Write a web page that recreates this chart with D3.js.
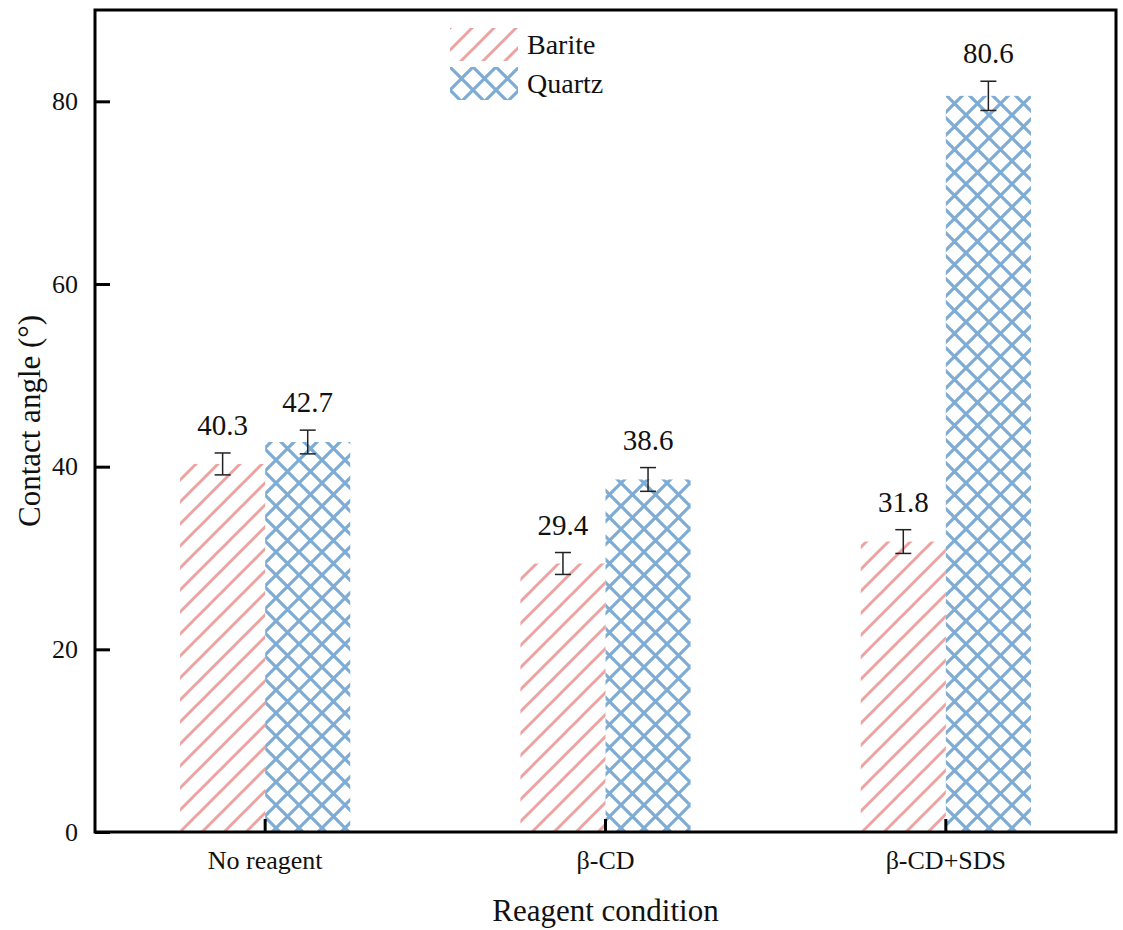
<!DOCTYPE html>
<html>
<head>
<meta charset="utf-8">
<script src="https://cdn.jsdelivr.net/npm/d3@7"></script>
<style>
  body { margin: 0; background: #fff; }
</style>
</head>
<body>
<svg id="chart" width="1123" height="930"></svg>
<script>
// chart values
const conditions = ["No reagent", "β-CD", "β-CD+SDS"];
const minerals = ["Barite", "Quartz"];
const bariteValues = [40.3, 29.4, 31.8];
const quartzValues = [42.7, 38.6, 80.6];
const bariteErrors = [1.2, 1.2, 1.3];
const quartzErrors = [1.3, 1.3, 1.6];
const yTicks = [0, 20, 40, 60, 80];

const margin = {left: 95, right: 7, top: 10, bottom: 98};
const width = 1123, height = 930;
const font = "Liberation Serif";

const svg = d3.select("#chart");

// hatch patterns
const defs = svg.append("defs");
const s = 22;
defs.append("pattern")
  .attr("id", "hatchBarite")
  .attr("patternUnits", "userSpaceOnUse")
  .attr("width", s).attr("height", s)
  .append("path")
  .attr("d", `M0,${s} L${s},0 M${-s/4},${s/4} L${s/4},${-s/4} M${3*s/4},${5*s/4} L${5*s/4},${3*s/4}`)
  .attr("stroke", "#eea3a3")
  .attr("stroke-width", 3)
  .attr("stroke-linecap", "round");

const q = 23;
defs.append("pattern")
  .attr("id", "hatchQuartz")
  .attr("patternUnits", "userSpaceOnUse")
  .attr("width", q).attr("height", q)
  .append("path")
  .attr("d", `M0,${q} L${q},0 M${-q/4},${q/4} L${q/4},${-q/4} M${3*q/4},${5*q/4} L${5*q/4},${3*q/4}
              M0,0 L${q},${q} M${-q/4},${3*q/4} L${q/4},${5*q/4} M${3*q/4},${-q/4} L${5*q/4},${q/4}`)
  .attr("stroke", "#7eacd4")
  .attr("stroke-width", 3.2);

const x = d3.scaleBand()
  .domain(conditions)
  .range([margin.left, width - margin.right]);

const xInner = d3.scaleBand()
  .domain(minerals)
  .range([0, x.bandwidth()])
  .paddingOuter(1);

const y = d3.scaleLinear()
  .domain([0, 90])
  .range([height - margin.bottom, margin.top]);

const series = [
  {name: "Barite", values: bariteValues, errors: bariteErrors, fill: "url(#hatchBarite)"},
  {name: "Quartz", values: quartzValues, errors: quartzErrors, fill: "url(#hatchQuartz)"}
];

const rows = [];
series.forEach(sr => {
  conditions.forEach((c, i) => {
    rows.push({cond: c, name: sr.name, v: sr.values[i], e: sr.errors[i], fill: sr.fill});
  });
});

// bars
svg.append("g")
  .selectAll("rect")
  .data(rows)
  .enter()
  .append("rect")
  .attr("x", d => x(d.cond) + xInner(d.name))
  .attr("y", d => y(d.v))
  .attr("width", xInner.bandwidth())
  .attr("height", d => y(0) - y(d.v))
  .attr("fill", d => d.fill);

// error bars
const eb = svg.append("g")
  .attr("stroke", "#222")
  .attr("stroke-width", 1.5);
rows.forEach(d => {
  const cx = x(d.cond) + xInner(d.name) + xInner.bandwidth() / 2;
  eb.append("line").attr("x1", cx).attr("x2", cx).attr("y1", y(d.v + d.e)).attr("y2", y(d.v - d.e));
  eb.append("line").attr("x1", cx - 8).attr("x2", cx + 8).attr("y1", y(d.v + d.e)).attr("y2", y(d.v + d.e));
  eb.append("line").attr("x1", cx - 8).attr("x2", cx + 8).attr("y1", y(d.v - d.e)).attr("y2", y(d.v - d.e));
});

// value labels
svg.append("g")
  .selectAll("text")
  .data(rows)
  .enter()
  .append("text")
  .attr("x", d => x(d.cond) + xInner(d.name) + xInner.bandwidth() / 2)
  .attr("y", d => y(d.v + d.e) - 18)
  .attr("text-anchor", "middle")
  .attr("font-family", font)
  .attr("font-size", 29)
  .attr("fill", "#111")
  .text(d => d.v.toFixed(1));

// axes
const yAxis = d3.axisLeft(y)
  .tickValues(yTicks)
  .tickSizeInner(-15)
  .tickSizeOuter(0)
  .tickPadding(17);

const gy = svg.append("g")
  .attr("transform", `translate(${margin.left},0)`)
  .call(yAxis);
gy.select(".domain").remove();
gy.selectAll(".tick line").attr("stroke", "#000").attr("stroke-width", 3);
gy.selectAll(".tick text")
  .attr("font-family", font)
  .attr("font-size", 26)
  .attr("fill", "#111");

const xAxis = d3.axisBottom(x)
  .tickSizeInner(-13)
  .tickSizeOuter(0)
  .tickPadding(19);

const gx = svg.append("g")
  .attr("transform", `translate(0,${height - margin.bottom})`)
  .call(xAxis);
gx.select(".domain").remove();
gx.selectAll(".tick line").attr("stroke", "#000").attr("stroke-width", 3);
gx.selectAll(".tick text")
  .attr("font-family", font)
  .attr("font-size", 26)
  .attr("fill", "#111");

// frame
svg.append("rect")
  .attr("x", margin.left)
  .attr("y", margin.top)
  .attr("width", width - margin.left - margin.right)
  .attr("height", height - margin.top - margin.bottom)
  .attr("fill", "none")
  .attr("stroke", "#000")
  .attr("stroke-width", 3);

// axis titles
svg.append("text")
  .attr("x", (margin.left + width - margin.right) / 2)
  .attr("y", 921)
  .attr("text-anchor", "middle")
  .attr("font-family", font)
  .attr("font-size", 31)
  .attr("fill", "#111")
  .text("Reagent condition");

svg.append("text")
  .attr("transform", `translate(40,${(margin.top + height - margin.bottom) / 2}) rotate(-90)`)
  .attr("text-anchor", "middle")
  .attr("font-family", font)
  .attr("font-size", 31)
  .attr("fill", "#111")
  .text("Contact angle (°)");

// legend
const legend = svg.append("g").attr("transform", "translate(450,28)");
series.forEach((sr, i) => {
  const g = legend.append("g").attr("transform", `translate(0,${i * 39})`);
  g.append("rect").attr("width", 68).attr("height", 33).attr("fill", sr.fill);
  g.append("text")
    .attr("x", 77)
    .attr("y", 26)
    .attr("font-family", font)
    .attr("font-size", 28)
    .attr("fill", "#111")
    .text(sr.name);
});
</script>
</body>
</html>
